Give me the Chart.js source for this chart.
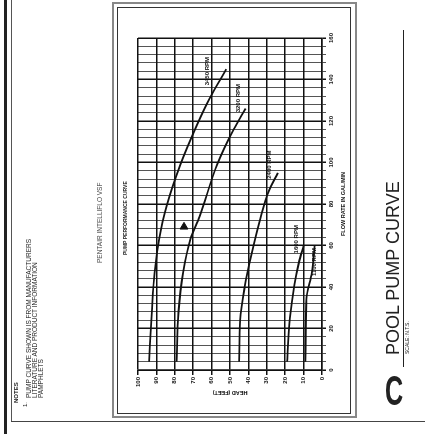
<!DOCTYPE html>
<html>
<head>
<meta charset="utf-8">
<script src="https://cdn.jsdelivr.net/npm/chart.js@4.4.1/dist/chart.umd.min.js"></script>
<style>
  html, body { margin: 0; padding: 0; background: #fff; overflow: hidden; }
  body { width: 425px; height: 434px; position: relative; }
  /* sheet is drawn upright, then turned a quarter left like the scan */
  #sheet { position: absolute; left: 0; top: 0; width: 434px; height: 425px;
    transform-origin: 217px 217px; transform: rotate(-90deg); background: #fff;
    font-family: "Liberation Sans", Arial, sans-serif; color: #222; filter: blur(0.4px); }
  #sheet div { position: absolute; }
  .ln { background: #222; }
  canvas { position: absolute; left: 0; top: 0; }
  .txt { white-space: nowrap; }
</style>
</head>
<body>
<div id="sheet">
  <!-- page border -->
  <div class="ln" style="left:0;top:4px;width:434px;height:3px;"></div>
  <div class="ln" style="left:12px;top:11px;width:422px;height:1px;background:#555"></div>
  <div class="ln" style="left:12px;top:11px;width:1px;height:414px;background:#444"></div>
  <!-- chart frame -->
  <div style="left:16px;top:112px;width:412px;height:241px;border:2px solid #888;"></div>
  <div style="left:20px;top:117px;width:405px;height:232px;border:1px solid #333;"></div>

  <!-- notes -->
  <div class="txt" style="left:31px;top:13px;font-size:6px;font-weight:bold;">NOTES</div>
  <div class="txt" style="left:27px;top:22px;font-size:6px;">1.</div>
  <div class="txt" style="left:36px;top:26px;font-size:6.5px;line-height:5.8px;">PUMP CURVE SHOWN IS FROM MANUFACTURERS<br>LITERATURE AND PRODUCT INFORMATION<br>PAMPHLETS</div>

  <div class="txt" style="left:171px;top:96px;font-size:6.5px;color:#444;">PENTAIR INTELLIFLO VSF</div>
  <div class="txt" style="left:179px;top:122px;font-size:5px;font-weight:bold;">PUMP PERFORMANCE CURVE</div>

  <!-- title block -->
  <div class="txt" style="left:28px;top:373px;width:30px;height:42px;font-size:42px;font-weight:bold;line-height:42px;text-align:center;transform:rotate(90deg) scaleX(0.6);">C</div>
  <div class="txt" style="left:79px;top:384px;font-size:18px;line-height:18px;">POOL PUMP CURVE</div>
  <div class="ln" style="left:67px;top:403px;width:337px;height:1px;"></div>
  <div class="txt" style="left:80px;top:404px;font-size:5px;">SCALE: N.T.S.</div>

  <canvas id="pumpChart" width="434" height="425"></canvas>
</div>

<script>
// Curvas de la bomba (caudal en GPM, carga en pies)
const flow1 = [4, 28, 47, 63, 79, 99, 118, 131, 145];
const head1 = [94, 92.5, 91, 88.5, 84.5, 77, 68, 61, 52];
const flow2 = [4, 28, 47, 63, 74, 99, 116, 126];
const head2 = [79, 78, 75.5, 71.5, 66.5, 57, 48, 41.5];
const flow3 = [4, 24, 40, 57, 73, 86, 95];
const head3 = [45, 44.5, 42, 38, 33.5, 29, 24];
const flow4 = [4, 25, 41, 52, 60];
const head4 = [19, 17.5, 15, 12.5, 10];
const flow5 = [4, 34, 47, 60];
const head5 = [9, 8.5, 5.5, 4];

// Etiquetas de cada curva
const curveNames = ["3450 RPM", "3200 RPM", "2400 RPM", "1600 RPM", "1100 RPM"];
const lblFlow = [144, 131, 99, 63, 52];
const lblHead = [62.5, 45.5, 28.5, 14, 4];

// Punto de operacion
const opFlow = [69];
const opHead = [75];

// Ejes
const flowMax = 160, flowStep = 4, flowLabelEvery = 20;
const headMax = 100, headStep = 10;

const pares = (xs, ys) => xs.map((x, i) => ({ x: x, y: ys[i] }));

const curva = (xs, ys) => ({
  data: pares(xs, ys),
  showLine: true,
  borderColor: '#111',
  borderWidth: 1.8,
  pointRadius: 0,
  cubicInterpolationMode: 'monotone',
  fill: false
});

// dibuja los nombres de las curvas
const etiquetas = {
  id: 'etiquetas',
  afterDatasetsDraw(chart) {
    const { ctx, scales: { x, y } } = chart;
    ctx.save();
    ctx.fillStyle = '#111';
    ctx.font = 'bold 6px "Liberation Sans", Arial, sans-serif';
    ctx.textAlign = 'center';
    ctx.textBaseline = 'middle';
    curveNames.forEach((name, i) => {
      ctx.fillText(name, x.getPixelForValue(lblFlow[i]), y.getPixelForValue(lblHead[i]));
    });
    ctx.restore();
  }
};

const ctx = document.getElementById('pumpChart');

new Chart(ctx, {
  type: 'scatter',
  data: {
    datasets: [
      curva(flow1, head1),
      curva(flow2, head2),
      curva(flow3, head3),
      curva(flow4, head4),
      curva(flow5, head5),
      {
        data: pares(opFlow, opHead),
        pointStyle: 'triangle',
        pointRadius: 4.5,
        pointRotation: 90,
        backgroundColor: '#111',
        borderColor: '#111'
      }
    ]
  },
  options: {
    responsive: false,
    animation: false,
    devicePixelRatio: 1,
    layout: { padding: { left: 38, right: 38, top: 138, bottom: 78 } },
    plugins: { legend: { display: false }, tooltip: { enabled: false } },
    scales: {
      x: {
        type: 'linear',
        min: 0,
        max: flowMax,
        afterFit: (a) => { a.height = 25; },
        ticks: {
          stepSize: flowStep,
          autoSkip: false,
          maxRotation: 0,
          padding: 2,
          color: '#111',
          font: { size: 6, weight: 'bold', family: '"Liberation Sans", Arial, sans-serif' },
          callback: (v) => (v % flowLabelEvery === 0 ? v : '')
        },
        grid: {
          color: (c) => (c.tick && c.tick.value % flowLabelEvery === 0 ? '#111' : '#555'),
          lineWidth: (c) => (c.tick && c.tick.value % flowLabelEvery === 0 ? 1.5 : 1),
          tickLength: 4
        },
        border: { color: '#111', width: 1.5 },
        title: {
          display: true,
          text: 'FLOW RATE IN GAL/MIN',
          color: '#111',
          padding: 0,
          font: { size: 5.5, weight: 'bold', family: '"Liberation Sans", Arial, sans-serif' }
        }
      },
      y: {
        type: 'linear',
        min: 0,
        max: headMax,
        afterFit: (a) => { a.width = 26; },
        ticks: {
          stepSize: headStep,
          padding: 2,
          color: '#111',
          font: { size: 6, weight: 'bold', family: '"Liberation Sans", Arial, sans-serif' }
        },
        grid: { color: '#111', lineWidth: 1.5, tickLength: 5 },
        border: { color: '#111', width: 1.5 },
        title: {
          display: true,
          text: 'HEAD (FEET)',
          color: '#111',
          padding: 0,
          font: { size: 5.5, weight: 'bold', family: '"Liberation Sans", Arial, sans-serif' }
        }
      }
    }
  },
  plugins: [etiquetas]
});
</script>
</body>
</html>
